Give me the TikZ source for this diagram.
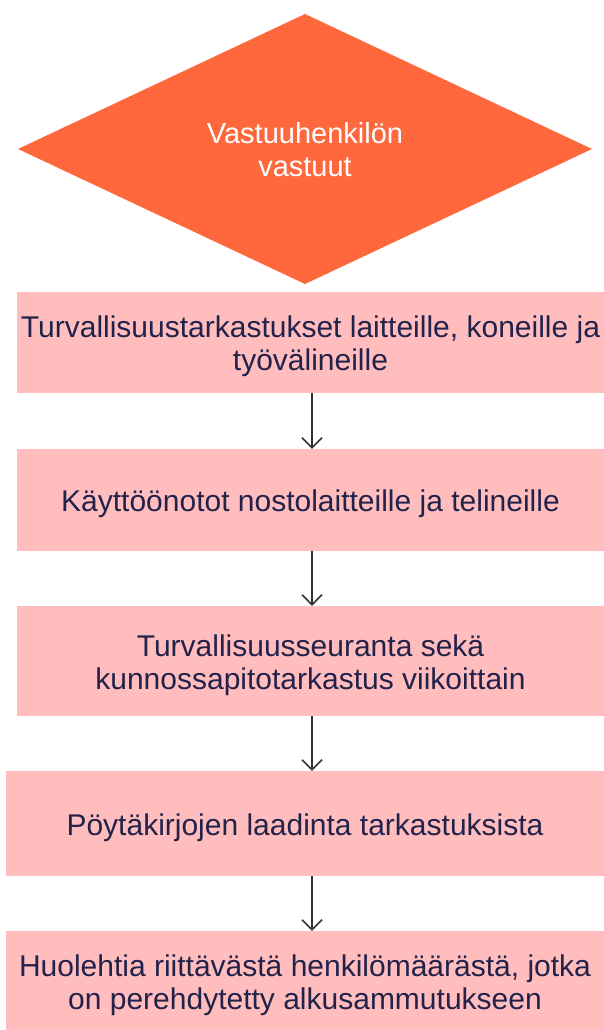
\documentclass[tikz,border=0pt]{standalone}
\usepackage{fontspec}
\setmainfont{Liberation Sans}
\usetikzlibrary{arrows.meta}
\definecolor{diafill}{HTML}{FF683D}
\definecolor{boxfill}{HTML}{FFBDBD}
\definecolor{boxtext}{HTML}{22224A}
\definecolor{arrcol}{HTML}{333333}
\tikzset{
  stepbox/.style={fill=boxfill, draw=none, inner sep=0pt},
  steptext/.style={inner sep=0pt, align=center, text=boxtext,
    font=\fontsize{30}{33}\selectfont},
  flowarrow/.style={draw=arrcol, line width=1.5pt, -{Straight Barb[length=10pt,width=20pt,line width=1.5pt]}},
}
\begin{document}
\begin{tikzpicture}[x=1pt,y=-1pt]
\useasboundingbox (0,0) rectangle (604,1030);
% diamond
\coordinate (dt) at (305,14);
\coordinate (dr) at (592,149);
\coordinate (db) at (305,284);
\coordinate (dl) at (18,149);
\fill[diafill] (dt) -- (dr) -- (db) -- (dl) -- cycle;
\node[text=white, align=center, inner sep=0pt, font=\fontsize{29}{33}\selectfont] (dtext) at (305,149.5) {Vastuuhenkilön\\vastuut};
% boxes
\node[stepbox, minimum width=587pt, minimum height=101pt] (b1) at (310.5,342.5) {};
\node[stepbox, minimum width=587pt, minimum height=102pt] (b2) at (310.5,500) {};
\node[stepbox, minimum width=587pt, minimum height=110pt] (b3) at (310.5,661) {};
\node[stepbox, minimum width=598pt, minimum height=105pt] (b4) at (305,823.5) {};
\node[stepbox, minimum width=598pt, minimum height=100pt] (b5) at (305,981) {};
% texts
\node[steptext] (t1) at ([yshift=-3.5pt]b1.center)
  {Turvallisuustarkastukset laitteille, koneille ja\\työvälineille};
\node[steptext] (t2) at ([yshift=-3.5pt]b2.center)
  {Käyttöönotot nostolaitteille ja telineille};
\node[steptext] (t3) at ([yshift=-4pt]b3.center)
  {Turvallisuusseuranta sekä\\kunnossapitotarkastus viikoittain};
\node[steptext] (t4) at ([yshift=-4pt]b4.center)
  {Pöytäkirjojen laadinta tarkastuksista};
\node[steptext] (t5) at ([yshift=-4pt]b5.center)
  {Huolehtia riittävästä henkilömäärästä, jotka\\on perehdytetty alkusammutukseen};
% arrows
\coordinate (ax) at (312,0);
\draw[flowarrow] (b1.south -| ax) -- (b2.north -| ax);
\draw[flowarrow] (b2.south -| ax) -- (b3.north -| ax);
\draw[flowarrow] (b3.south -| ax) -- (b4.north -| ax);
\draw[flowarrow] (b4.south -| ax) -- (b5.north -| ax);
\end{tikzpicture}
\end{document}
